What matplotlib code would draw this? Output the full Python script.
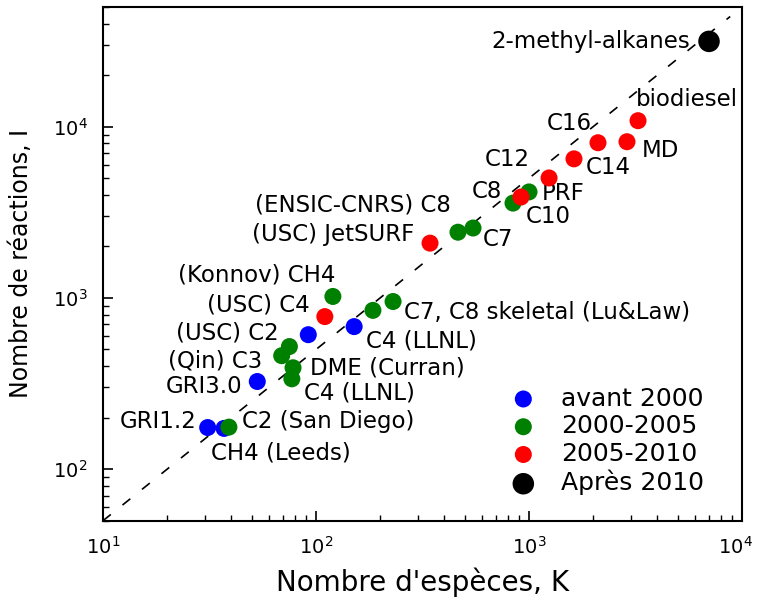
import matplotlib
matplotlib.use("Agg")
import matplotlib.pyplot as plt
import matplotlib.transforms as mtransforms
import numpy as np

plt.rcParams['font.family'] = ['DejaVu Sans']

# kinetic mechanisms: species count K and reaction count I, by period
blue_k = [31, 37, 53, 92, 151]
blue_i = [175, 173, 325, 610, 680]

green_k = [39, 69, 75, 78, 77, 120, 185, 230, 464, 546, 841, 1000]
green_i = [176, 460, 520, 391, 337, 1020, 846, 953, 2420, 2560, 3580, 4160]

red_k = [110, 343, 917, 1242, 1626, 2108, 2884, 3250]
red_i = [778, 2089, 3885, 5020, 6490, 8060, 8170, 10840]

black_k = [7000]
black_i = [31500]

periods = ['avant 2000', '2000-2005', '2005-2010', 'Après 2010']

# reference line I = 5 K
ratio = 5
line_k = np.array([10, 8800])

# label text, anchor (K, I), horizontal alignment
labels = [
    ('2-methyl-alkanes', 5700, 31500, 'right'),
    ('biodiesel', 3180, 14400, 'left'),
    ('C16', 1977, 10400, 'right'),
    ('MD', 3400, 7230, 'left'),
    ('C14', 1850, 5750, 'left'),
    ('C12', 1010, 6400, 'right'),
    ('C8', 747, 4160, 'right'),
    ('PRF', 1151, 4100, 'left'),
    ('C10', 968, 2970, 'left'),
    ('C7', 608, 2200, 'left'),
    ('(ENSIC-CNRS) C8', 430, 3490, 'right'),
    ('(USC) JetSURF', 288, 2357, 'right'),
    ('(Konnov) CH4', 123, 1355, 'right'),
    ('(USC) C4', 93.7, 904, 'right'),
    ('C7, C8 skeletal (Lu&Law)', 259, 822, 'left'),
    ('(USC) C2', 67, 620, 'right'),
    ('C4 (LLNL)', 172, 564, 'left'),
    ('(Qin) C3', 55.7, 430, 'right'),
    ('DME (Curran)', 93.7, 391, 'left'),
    ('GRI3.0', 45, 303, 'right'),
    ('C4 (LLNL)', 88, 279, 'left'),
    ('GRI1.2', 27.6, 191, 'right'),
    ('C2 (San Diego)', 45, 189, 'left'),
    ('CH4 (Leeds)', 32.1, 124, 'left'),
]

x_ticks = [10, 100, 1000, 10000]

fig = plt.figure(figsize=(7.58, 5.99), dpi=100)
ax = fig.add_axes([0.1359, 0.1307, 0.843, 0.8576])
ax.set_xscale('log')
ax.set_yscale('log')

ax.plot(line_k, ratio * line_k, color='black', lw=1.2, dashes=(6, 9), zorder=1)

h1 = ax.scatter(blue_k, blue_i, s=150, color='#0000ff', edgecolors='none', zorder=2, label=periods[0])
h2 = ax.scatter(green_k, green_i, s=150, color='#008000', edgecolors='none', zorder=3, label=periods[1])
h3 = ax.scatter(red_k, red_i, s=150, color='#ff0000', edgecolors='none', zorder=4, label=periods[2])
h4 = ax.scatter(black_k, black_i, s=240, color='black', edgecolors='none', zorder=5, label=periods[3])

for text, k, i, ha in labels:
    ax.text(k, i, text, ha=ha, va='center', fontsize=16.5)

ax.set_xlim(10, 1e4)
ax.set_ylim(50, 5e4)
ax.set_xticks(x_ticks)

ax.tick_params(which='both', direction='in', top=False, right=False, labelsize=14)
ax.tick_params(which='major', length=7, width=1.2, pad=11)
ax.tick_params(which='minor', length=4, width=1.0)
for sp in ax.spines.values():
    sp.set_linewidth(1.5)

# nudge the last x tick label so it stays inside the figure
last = ax.xaxis.get_major_ticks()[-1].label1
last.set_transform(last.get_transform() +
                   mtransforms.ScaledTranslation(-5 / 72, 0, fig.dpi_scale_trans))

ax.set_xlabel("Nombre d'espèces, K", fontsize=20)
ax.set_ylabel('Nombre de réactions, I', fontsize=17)
ax.xaxis.set_label_coords(0.5, -0.092)
ax.yaxis.set_label_coords(-0.11, 0.5)

ax.legend(handles=[h1, h2, h3, h4], loc='lower left', bbox_to_anchor=(0.603, 0.03),
          frameon=False, fontsize=18, scatterpoints=1, handletextpad=0.5,
          labelspacing=0.15, borderaxespad=0)

fig.savefig('out.png', dpi=100)
